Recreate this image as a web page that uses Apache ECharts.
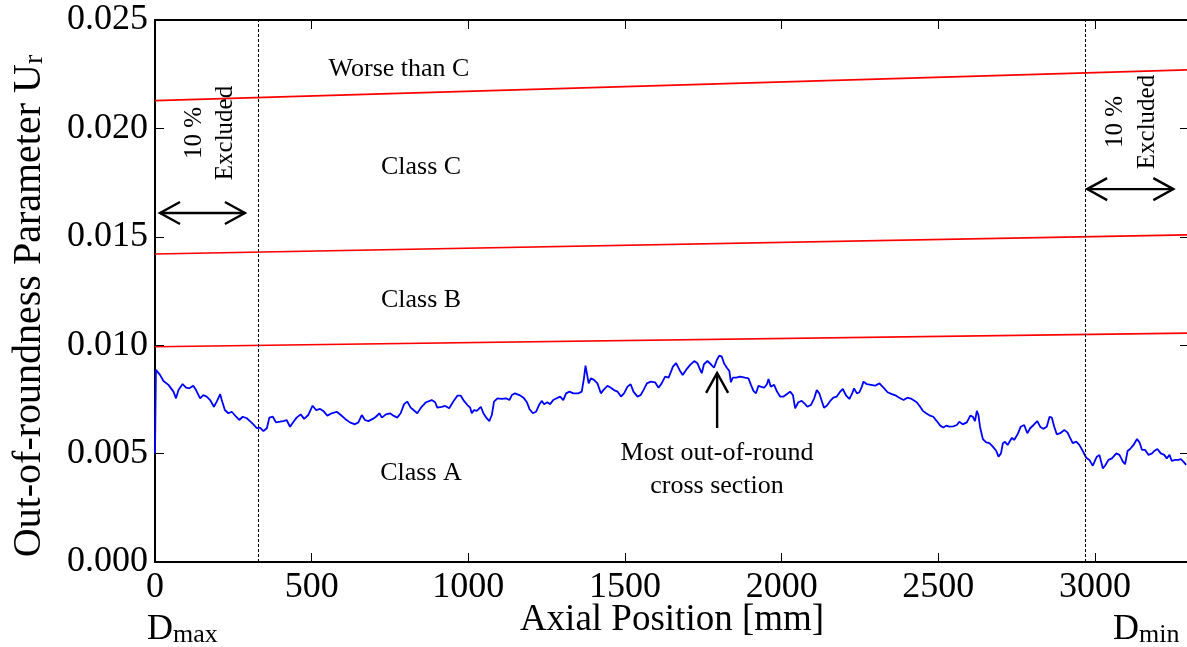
<!DOCTYPE html>
<html><head><meta charset="utf-8">
<script src="https://cdn.jsdelivr.net/npm/echarts/dist/echarts.min.js"></script>
<style>html,body{margin:0;padding:0;background:#fff}#c{width:1187px;height:647px}</style>
</head><body><div id="c"></div>
<script>
// ---- data ----
const axialPos = [0,3,16,27,43,59,67,75,88,99,110,122,131,144,154,165,176,188,197,208,213,223,234,245,259,269,280,293,303,314,325,335,346,357,365,376,386,399,410,420,431,442,452,465,476,489,503,514,527,537,550,564,580,593,607,622,638,649,660,670,681,695,705,716,724,737,750,761,773,784,795,805,816,825,837,851,865,883,894,901,915,926,939,952,965,976,986,997,1006,1011,1018,1027,1040,1048,1057,1067,1075,1082,1093,1107,1120,1131,1139,1149,1163,1176,1187,1195,1206,1216,1227,1234,1242,1252,1261,1271,1282,1293,1303,1312,1323,1335,1351,1362,1369,1374,1380,1384,1391,1401,1412,1423,1431,1444,1455,1465,1476,1487,1497,1508,1518,1527,1540,1550,1559,1570,1582,1596,1607,1617,1628,1639,1649,1653,1663,1674,1684,1695,1708,1721,1731,1740,1745,1752,1763,1774,1784,1793,1801,1809,1816,1825,1833,1838,1844,1855,1867,1883,1894,1902,1910,1918,1926,1933,1944,1953,1958,1965,1976,1985,1995,2006,2016,2027,2036,2043,2053,2064,2075,2082,2093,2104,2112,2120,2128,2135,2144,2155,2165,2176,2187,2195,2206,2216,2224,2231,2240,2248,2256,2261,2272,2285,2298,2312,2325,2338,2352,2365,2378,2389,2401,2415,2431,2442,2451,2461,2474,2484,2495,2506,2516,2525,2535,2548,2559,2567,2578,2591,2602,2610,2617,2623,2628,2633,2642,2653,2663,2674,2685,2692,2700,2706,2713,2721,2727,2735,2742,2753,2763,2774,2784,2793,2804,2816,2825,2835,2846,2855,2862,2870,2878,2889,2902,2912,2921,2929,2940,2950,2961,2972,2982,2993,3001,3006,3014,3019,3025,3032,3043,3054,3068,3078,3089,3096,3104,3112,3123,3134,3142,3150,3160,3171,3182,3189,3199,3210,3221,3229,3238,3245,3256,3266,3274,3282,3291];
const roundness = [0.00500,0.00886,0.00863,0.00835,0.00817,0.00786,0.00755,0.00793,0.00821,0.00804,0.00801,0.00813,0.00793,0.00755,0.00770,0.00763,0.00747,0.00716,0.00740,0.00774,0.00747,0.00701,0.00686,0.00693,0.00670,0.00655,0.00670,0.00663,0.00650,0.00635,0.00617,0.00620,0.00604,0.00617,0.00666,0.00670,0.00644,0.00647,0.00650,0.00655,0.00624,0.00647,0.00666,0.00681,0.00660,0.00678,0.00721,0.00701,0.00706,0.00697,0.00675,0.00686,0.00693,0.00678,0.00660,0.00644,0.00635,0.00644,0.00678,0.00655,0.00650,0.00660,0.00670,0.00686,0.00666,0.00681,0.00686,0.00675,0.00666,0.00686,0.00728,0.00740,0.00712,0.00701,0.00686,0.00716,0.00737,0.00747,0.00737,0.00712,0.00716,0.00720,0.00709,0.00740,0.00767,0.00767,0.00743,0.00724,0.00712,0.00686,0.00701,0.00697,0.00716,0.00686,0.00666,0.00650,0.00678,0.00740,0.00755,0.00752,0.00755,0.00747,0.00770,0.00778,0.00770,0.00758,0.00737,0.00706,0.00686,0.00693,0.00728,0.00743,0.00728,0.00737,0.00728,0.00747,0.00755,0.00763,0.00747,0.00778,0.00786,0.00778,0.00778,0.00786,0.00847,0.00906,0.00912,0.00824,0.00847,0.00840,0.00824,0.00778,0.00793,0.00813,0.00804,0.00793,0.00786,0.00763,0.00778,0.00809,0.00820,0.00786,0.00763,0.00770,0.00793,0.00824,0.00832,0.00829,0.00804,0.00824,0.00855,0.00850,0.00886,0.00901,0.00917,0.00886,0.00863,0.00886,0.00909,0.00927,0.00917,0.00886,0.00871,0.00912,0.00927,0.00912,0.00896,0.00932,0.00952,0.00947,0.00917,0.00896,0.00881,0.00829,0.00850,0.00850,0.00855,0.00850,0.00847,0.00817,0.00789,0.00778,0.00813,0.00809,0.00804,0.00820,0.00844,0.00809,0.00817,0.00786,0.00763,0.00763,0.00774,0.00786,0.00770,0.00709,0.00737,0.00743,0.00728,0.00716,0.00724,0.00755,0.00793,0.00778,0.00743,0.00712,0.00721,0.00743,0.00758,0.00763,0.00786,0.00798,0.00767,0.00752,0.00774,0.00801,0.00778,0.00783,0.00809,0.00832,0.00820,0.00817,0.00813,0.00824,0.00804,0.00783,0.00774,0.00767,0.00755,0.00747,0.00758,0.00752,0.00737,0.00716,0.00697,0.00686,0.00675,0.00670,0.00650,0.00629,0.00620,0.00629,0.00624,0.00626,0.00632,0.00647,0.00635,0.00644,0.00675,0.00670,0.00650,0.00697,0.00678,0.00624,0.00567,0.00552,0.00548,0.00532,0.00512,0.00486,0.00501,0.00548,0.00555,0.00540,0.00543,0.00573,0.00563,0.00589,0.00624,0.00632,0.00594,0.00617,0.00632,0.00650,0.00624,0.00614,0.00624,0.00670,0.00666,0.00624,0.00589,0.00594,0.00609,0.00598,0.00571,0.00548,0.00555,0.00540,0.00512,0.00481,0.00471,0.00444,0.00471,0.00486,0.00494,0.00497,0.00432,0.00444,0.00471,0.00478,0.00501,0.00494,0.00463,0.00451,0.00512,0.00521,0.00540,0.00567,0.00552,0.00517,0.00517,0.00494,0.00501,0.00512,0.00521,0.00501,0.00494,0.00478,0.00494,0.00466,0.00471,0.00471,0.00475,0.00463,0.00448];
const limitX  = [0, 3300];
const limitAB = [0.00993, 0.01056];   // Class A / Class B boundary
const limitBC = [0.01421, 0.01509];   // Class B / Class C boundary
const limitCW = [0.02128, 0.02270];   // Class C / worse than C boundary
const excludedAt = [330, 2970];       // 10 % excluded at each end
const xRange = [0, 3300], xStep = 500;
const yRange = [0, 0.025], yStep = 0.005;
// annotation arrows in data space
const arrowLeft  = [[16, 0.0161], [287, 0.0161]];
const arrowRight = [[2975, 0.0172], [3250, 0.0172]];
const arrowMost  = [[1794, 0.00618], [1794, 0.00872]];

const FONT = '"Liberation Serif", "Times New Roman", serif';
const chart = echarts.init(document.getElementById('c'));
const zip = (xs, ys) => xs.map((x, i) => [x, ys[i]]);

const axisLine = {show: true, onZero: false, lineStyle: {color: '#000', width: 2}};
const axisTick = {show: true, inside: true, length: 9, lineStyle: {color: '#000', width: 1}};
const xBase = {type: 'value', min: xRange[0], max: xRange[1], interval: xStep, axisLine, axisTick, splitLine: {show: false}};
const yBase = {type: 'value', min: yRange[0], max: yRange[1], interval: yStep, axisLine, axisTick, splitLine: {show: false}};

function limitSeries(vals) {
  return {type: 'line', data: zip(limitX, vals), showSymbol: false, symbol: 'none',
          lineStyle: {color: '#ff0000', width: 1.6}, silent: true, z: 3};
}

chart.setOption({
  animation: false,
  grid: {left: 155, top: 20, right: -2, bottom: 85, containLabel: false, outerBoundsMode: 'none'},
  xAxis: [
    Object.assign({}, xBase, {position: 'bottom',
      axisLabel: {margin: 8, color: '#000', fontFamily: FONT, fontSize: 36,
        formatter: v => v > 3000 ? '' : String(v)},
      name: 'Axial Position [mm]', nameLocation: 'middle', nameGap: 40, nameMoveOverlap: false,
      nameTextStyle: {color: '#000', fontFamily: FONT, fontSize: 37}}),
    Object.assign({}, xBase, {position: 'top', axisLabel: {show: false}})
  ],
  yAxis: [
    Object.assign({}, yBase, {position: 'left',
      axisLabel: {margin: 7, color: '#000', fontFamily: FONT, fontSize: 36, formatter: v => v.toFixed(3)},
      name: 'Out-of-roundness Parameter U{sub|r}', nameLocation: 'middle', nameGap: 106,
      nameTextStyle: {color: '#000', fontFamily: FONT, fontSize: 40, padding: [0, 30, 0, 0],
        rich: {sub: {fontFamily: FONT, fontSize: 28, color: '#000', verticalAlign: 'bottom'}}}}),
    Object.assign({}, yBase, {position: 'right', axisLabel: {show: false}})
  ],
  series: [
    limitSeries(limitAB), limitSeries(limitBC), limitSeries(limitCW),
    {type: 'line', data: zip(axialPos, roundness), showSymbol: false, symbol: 'none',
     lineStyle: {color: '#0000ff', width: 1.8}, z: 4, silent: true,
     markLine: {silent: true, symbol: 'none', label: {show: false},
       lineStyle: {color: '#000', type: [3, 2], width: 1},
       data: excludedAt.map(x => ({xAxis: x}))}}
  ]
});

// ---- annotations ----
const toPx = p => chart.convertToPixel({gridIndex: 0}, p);
function arrowGraphics(seg, both) {
  const a = toPx(seg[0]), b = toPx(seg[1]);
  const dx = b[0] - a[0], dy = b[1] - a[1], len = Math.hypot(dx, dy);
  const ux = dx / len, uy = dy / len, nx = -uy, ny = ux, L = 20, W = 11;
  const head = (tip, sx, sy) => [[tip[0] - sx * L + nx * W, tip[1] - sy * L + ny * W], tip,
                                 [tip[0] - sx * L - nx * W, tip[1] - sy * L - ny * W]];
  const st = {stroke: '#000', lineWidth: 2.4, fill: null};
  const g = [{type: 'line', shape: {x1: a[0], y1: a[1], x2: b[0], y2: b[1]}, style: st},
             {type: 'polyline', shape: {points: head(b, ux, uy)}, style: st}];
  if (both) g.push({type: 'polyline', shape: {points: head(a, -ux, -uy)}, style: st});
  return g;
}
function txt(text, x, y, size, extra) {
  return Object.assign({type: 'text', x, y, silent: true,
    style: Object.assign({text, fill: '#000', fontFamily: FONT, fontSize: size,
      align: 'center', verticalAlign: 'middle'}, extra || {})});
}
const graphics = [].concat(
  arrowGraphics(arrowLeft, true), arrowGraphics(arrowRight, true), arrowGraphics(arrowMost, false),
  [
    txt('Worse than C', 399, 69, 26),
    txt('Class C', 421, 167, 26),
    txt('Class B', 421, 300, 26),
    txt('Class A', 421, 473, 26),
    txt('Most out-of-round\ncross section', 717, 470, 26, {lineHeight: 33}),
    Object.assign(txt('10 %\nExcluded', 210, 133, 25, {lineHeight: 31}), {rotation: Math.PI / 2}),
    Object.assign(txt('10 %\nExcluded', 1131, 122, 25, {lineHeight: 32}), {rotation: Math.PI / 2}),
    txt('{a|D}{b|max}', 147, 630, 36, {align: 'left',
      rich: {a: {fontFamily: FONT, fontSize: 36, fill: '#000', verticalAlign: 'bottom'},
             b: {fontFamily: FONT, fontSize: 26, fill: '#000', verticalAlign: 'bottom'}}}),
    txt('{a|D}{b|min}', 1113, 630, 36, {align: 'left',
      rich: {a: {fontFamily: FONT, fontSize: 36, fill: '#000', verticalAlign: 'bottom'},
             b: {fontFamily: FONT, fontSize: 26, fill: '#000', verticalAlign: 'bottom'}}})
  ]
);
chart.setOption({graphic: graphics.map(g => Object.assign({z: 10}, g))});
</script>
</body></html>
